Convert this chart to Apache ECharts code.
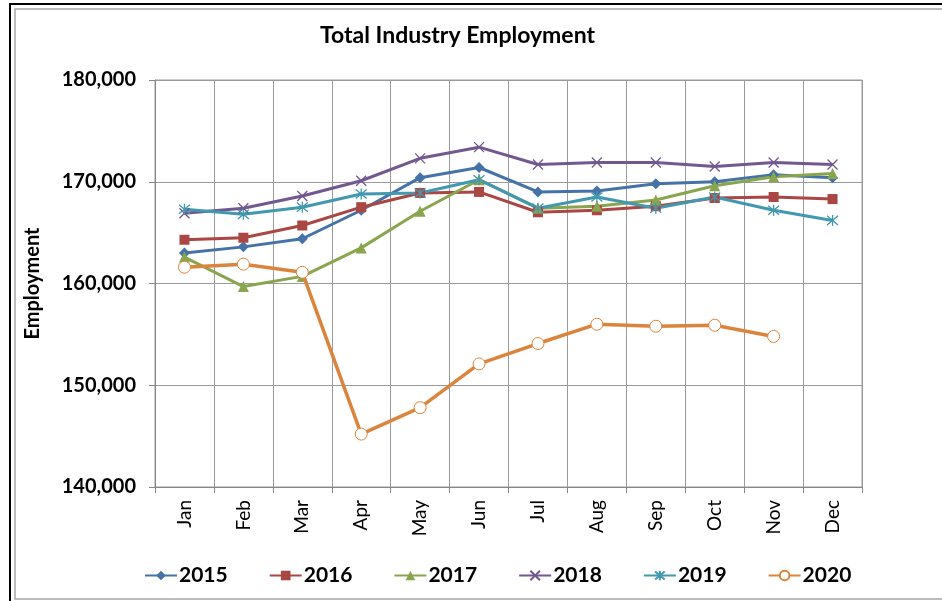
<!DOCTYPE html>
<html>
<head>
<meta charset="utf-8">
<script src="https://cdn.jsdelivr.net/npm/echarts@6/dist/echarts.min.js"></script>
<style>
  html, body { margin: 0; padding: 0; background: #fff; }
  #chart { width: 942px; height: 601px; }
</style>
</head>
<body>
<div id="chart"></div>
<script>
// chart values
const months = ['Jan', 'Feb', 'Mar', 'Apr', 'May', 'Jun', 'Jul', 'Aug', 'Sep', 'Oct', 'Nov', 'Dec'];
const years = ['2015', '2016', '2017', '2018', '2019', '2020'];

const emp2015 = [163000, 163600, 164400, 167200, 170400, 171400, 169000, 169100, 169800, 170000, 170700, 170400];
const emp2016 = [164300, 164500, 165700, 167500, 168900, 169000, 167000, 167200, 167600, 168400, 168500, 168300];
const emp2017 = [162600, 159700, 160700, 163500, 167100, 170200, 167400, 167600, 168200, 169600, 170500, 170800];
const emp2018 = [166900, 167400, 168600, 170100, 172300, 173400, 171700, 171900, 171900, 171500, 171900, 171700];
const emp2019 = [167300, 166800, 167500, 168800, 168900, 170200, 167400, 168500, 167400, 168500, 167200, 166200];
const emp2020 = [161600, 161900, 161100, 145200, 147800, 152100, 154100, 156000, 155800, 155900, 154800, null];

const yTicks = [140000, 150000, 160000, 170000, 180000];

const colors = ['#4572A7', '#AA4643', '#89A54E', '#71588F', '#4198AF', '#DB843D'];
const FONT = 'Lato, "Open Sans", sans-serif';

const crossPath = 'path://M0,0L10,10M10,0L0,10';
const starPath = 'path://M0,0L10,10M10,0L0,10M5,-1L5,11';

function lineSeries(name, data, color, symbol, size, extra) {
  return Object.assign({
    name: name,
    type: 'line',
    data: data,
    symbol: symbol,
    symbolSize: size,
    showAllSymbol: true,
    lineStyle: { color: color, width: 3 },
    itemStyle: { color: color },
    emphasis: { disabled: true },
    z: 3
  }, extra || {});
}

const chart = echarts.init(document.getElementById('chart'));

chart.setOption({
  animation: false,
  textStyle: { fontFamily: FONT },
  title: {
    text: 'Total Industry Employment',
    left: 315,
    top: 19,
    textStyle: { fontFamily: FONT, fontSize: 23, fontWeight: 'bold', color: '#000' }
  },
  legend: {
    data: years,
    left: 139,
    top: 560,
    itemWidth: 32,
    itemHeight: 12,
    itemGap: 41,
    textStyle: { fontFamily: FONT, fontSize: 21, fontWeight: 'bold', color: '#000', padding: [0, 0, 0, -3] }
  },
  grid: {
    left: 155,
    right: 80,
    top: 80,
    bottom: 114,
    show: true,
    borderColor: '#9a9a9a',
    borderWidth: 1
  },
  xAxis: {
    type: 'category',
    data: months,
    boundaryGap: true,
    axisLine: { lineStyle: { color: '#868686', width: 1 } },
    axisTick: { show: true, interval: 0, length: 6, lineStyle: { color: '#868686' } },
    splitLine: { show: true, interval: 0, lineStyle: { color: '#9a9a9a', width: 1 } },
    axisLabel: { rotate: 90, interval: 0, margin: 13, fontFamily: FONT, fontSize: 19, color: '#000' }
  },
  yAxis: {
    type: 'value',
    min: yTicks[0],
    max: yTicks[yTicks.length - 1],
    interval: 10000,
    name: 'Employment',
    nameLocation: 'middle',
    nameGap: 112,
    nameTextStyle: { fontFamily: FONT, fontSize: 20, fontWeight: 'bold', color: '#000' },
    axisLine: { show: true, lineStyle: { color: '#868686', width: 1 } },
    axisTick: { show: true, length: 6, lineStyle: { color: '#868686' } },
    splitLine: { show: true, lineStyle: { color: '#9a9a9a', width: 1 } },
    axisLabel: {
      margin: 19,
      fontFamily: FONT,
      fontSize: 20,
      fontWeight: 'bold',
      color: '#000',
      formatter: function (v) { return v.toLocaleString('en-US'); }
    }
  },
  graphic: [
    { type: 'rect', shape: { x: 10, y: 4, width: 1000, height: 700 }, style: { fill: 'none', stroke: '#000', lineWidth: 2 }, silent: true },
    { type: 'rect', shape: { x: 15, y: 9, width: 1000, height: 590 }, style: { fill: 'none', stroke: '#a6a6a6', lineWidth: 1.5 }, silent: true }
  ],
  series: [
    lineSeries('2015', emp2015, colors[0], 'diamond', 11),
    lineSeries('2016', emp2016, colors[1], 'rect', 10),
    lineSeries('2017', emp2017, colors[2], 'triangle', 11),
    lineSeries('2018', emp2018, colors[3], crossPath, 10, {
      itemStyle: { color: colors[3], borderColor: colors[3], borderWidth: 1.3 }
    }),
    lineSeries('2019', emp2019, colors[4], starPath, 11, {
      itemStyle: { color: colors[4], borderColor: colors[4], borderWidth: 1.3 }
    }),
    lineSeries('2020', emp2020, colors[5], 'circle', 12, {
      itemStyle: { color: '#fff', borderColor: colors[5], borderWidth: 1 },
      lineStyle: { color: colors[5], width: 3.5 },
      z: 4
    })
  ]
});
</script>
</body>
</html>
